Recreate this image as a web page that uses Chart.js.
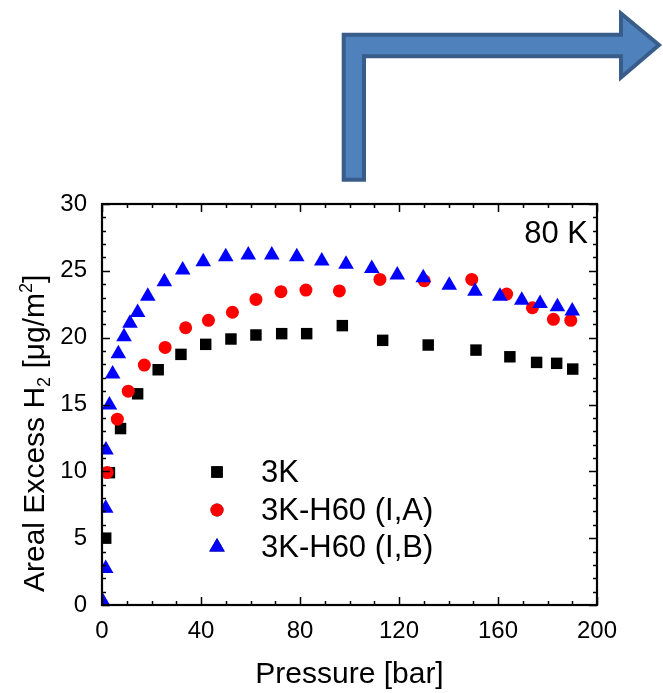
<!DOCTYPE html>
<html>
<head>
<meta charset="utf-8">
<script src="https://cdn.jsdelivr.net/npm/chart.js@4.4.1/dist/chart.umd.min.js"></script>
<style>
  html, body { margin: 0; padding: 0; background: #fff; }
  #wrap { width: 663px; height: 693px; position: relative; }
</style>
</head>
<body>
<div id="wrap"><canvas id="isoChart"></canvas></div>
<script>
// 3K
const press3K = [1.5, 3, 7.5, 14.4, 22.7, 31.9, 41.9, 52.1, 62.2, 72.6, 82.7, 97.1, 113.4, 131.8, 151.1, 164.8, 175.6, 183.7, 190.2];
const excess3K = [5.0, 9.9, 13.2, 15.8, 17.6, 18.75, 19.5, 19.9, 20.2, 20.3, 20.3, 20.9, 19.8, 19.45, 19.07, 18.57, 18.15, 18.08, 17.65];

// 3K-H60 (I,A)
const pressIA = [0, 2.1, 6.2, 10.6, 17.1, 25.5, 33.8, 43, 52.7, 62.2, 72.3, 82.4, 95.9, 112.3, 130.2, 149.4, 163.5, 173.9, 182.4, 189.4];
const excessIA = [0, 9.92, 13.9, 16.0, 17.95, 19.27, 20.74, 21.3, 21.9, 22.86, 23.44, 23.56, 23.5, 24.36, 24.26, 24.36, 23.26, 22.24, 21.37, 21.3];

// 3K-H60 (I,B)
const pressIB = [0.5, 1.5, 1.5, 1.6, 3, 4.3, 6.6, 8.9, 11.3, 14.4, 18.5, 25.2, 32.6, 40.9, 50, 59.1, 68.6, 78.7, 88.8, 98.6, 109, 119.3, 129.8, 140.3, 150.7, 160.8, 169.6, 177, 184, 190];
const excessIB = [0.2, 2.74, 7.23, 11.6, 14.96, 17.28, 18.8, 20.07, 21.07, 21.89, 23.1, 24.18, 25.06, 25.68, 26.05, 26.18, 26.18, 26.05, 25.73, 25.5, 25.18, 24.68, 24.48, 23.93, 23.48, 23.1, 22.8, 22.56, 22.31, 22.0];

const seriesNames = ["3K", "3K-H60 (I,A)", "3K-H60 (I,B)"];
const tempLabel = "80 K";

const toPoints = (xs, ys) => xs.map((x, i) => ({ x: x, y: ys[i] }));

const FONT = "'Liberation Sans', Arial, sans-serif";

// inward ticks on all four sides + box
const frameTicks = {
  id: "frameTicks",
  afterDatasetsDraw(chart) {
    const { ctx, chartArea: a, scales } = chart;
    const x = scales.x, y = scales.y;
    ctx.save();
    ctx.strokeStyle = "#000";
    ctx.lineWidth = 1.5;
    ctx.beginPath();
    for (let v = 0; v <= 200; v += 10) {
      const px = Math.round(x.getPixelForValue(v)) + 0.5;
      const len = v % 40 === 0 ? 8 : 4;
      ctx.moveTo(px, a.bottom); ctx.lineTo(px, a.bottom - len);
      ctx.moveTo(px, a.top); ctx.lineTo(px, a.top + len);
    }
    for (let v = 0; v <= 30; v += 1) {
      const py = Math.round(y.getPixelForValue(v)) + 0.5;
      const len = v % 5 === 0 ? 8 : 4;
      ctx.moveTo(a.left, py); ctx.lineTo(a.left + len, py);
      ctx.moveTo(a.right, py); ctx.lineTo(a.right - len, py);
    }
    ctx.stroke();
    ctx.lineWidth = 2.2;
    ctx.strokeRect(a.left, a.top, a.right - a.left, a.bottom - a.top);

    // temperature label
    ctx.fillStyle = "#000";
    ctx.font = "31px " + FONT;
    ctx.textAlign = "right";
    ctx.textBaseline = "alphabetic";
    ctx.fillText(tempLabel, a.right - 9, a.top + 39);
    ctx.restore();
  }
};

// legend inside the plot
const innerLegend = {
  id: "innerLegend",
  afterDraw(chart) {
    const { ctx } = chart;
    const rows = [472, 510, 547];
    ctx.save();
    chart.data.datasets.forEach((ds, i) => {
      Chart.helpers.drawPoint(ctx, {
        pointStyle: ds.pointStyle,
        radius: ds.pointRadius,
        rotation: 0,
        borderWidth: 0
      }, 217, rows[i]);
      ctx.fillStyle = ds.backgroundColor;
      ctx.fill();
      ctx.fillStyle = "#000";
      ctx.font = "31px " + FONT;
      ctx.textAlign = "left";
      ctx.textBaseline = "middle";
      ctx.fillText(ds.label, 261, rows[i] + 1);
    });
    ctx.restore();
  }
};

// y title with sub/superscript
const yTitle = {
  id: "yTitle",
  afterDraw(chart) {
    const { ctx } = chart;
    ctx.save();
    ctx.translate(44, 592);
    ctx.rotate(-Math.PI / 2);
    ctx.fillStyle = "#000";
    ctx.textAlign = "left";
    ctx.textBaseline = "alphabetic";
    let cx = 0;
    const part = (t, size, dy) => {
      ctx.font = size + "px " + FONT;
      ctx.fillText(t, cx, dy);
      cx += ctx.measureText(t).width;
    };
    part("Areal Excess H", 30, 0);
    part("2", 18, 6);
    part(" [\u03bcg/m", 30, 0);
    part("2", 18, -12);
    part("]", 30, 0);
    ctx.restore();
  }
};

// decorative bent arrow at the top
const bentArrow = {
  id: "bentArrow",
  afterDraw(chart) {
    const { ctx } = chart;
    ctx.save();
    ctx.beginPath();
    ctx.moveTo(343.7, 179.7);
    ctx.lineTo(343.7, 34.7);
    ctx.lineTo(621, 34.7);
    ctx.lineTo(621, 13.5);
    ctx.lineTo(659, 45);
    ctx.lineTo(621, 77.5);
    ctx.lineTo(621, 56.3);
    ctx.lineTo(364, 56.3);
    ctx.lineTo(364, 179.7);
    ctx.closePath();
    ctx.fillStyle = "#4f81bd";
    ctx.fill();
    ctx.lineWidth = 4;
    ctx.lineJoin = "miter";
    ctx.strokeStyle = "#385d8a";
    ctx.stroke();
    ctx.restore();
  }
};

const ctx = document.getElementById("isoChart").getContext("2d");

new Chart(ctx, {
  type: "scatter",
  data: {
    datasets: [
      {
        label: seriesNames[0],
        data: toPoints(press3K, excess3K),
        pointStyle: "rect",
        pointRadius: 8.1,
        backgroundColor: "#000000",
        borderWidth: 0,
        order: 3,
        clip: 0
      },
      {
        label: seriesNames[1],
        data: toPoints(pressIA, excessIA),
        pointStyle: "circle",
        pointRadius: 6.5,
        backgroundColor: "#ff0000",
        borderWidth: 0,
        order: 2,
        clip: 0
      },
      {
        label: seriesNames[2],
        data: toPoints(pressIB, excessIB),
        pointStyle: "triangle",
        pointRadius: 9,
        backgroundColor: "#0000ff",
        borderWidth: 0,
        order: 1,
        clip: 0
      }
    ]
  },
  options: {
    responsive: true,
    maintainAspectRatio: false,
    animation: false,
    devicePixelRatio: 1,
    layout: { padding: { left: 0, top: 204, right: 66, bottom: 0 } },
    plugins: {
      legend: { display: false },
      tooltip: { enabled: false }
    },
    scales: {
      x: {
        type: "linear",
        min: 0,
        max: 200,
        grid: { display: false },
        border: { display: false },
        ticks: {
          stepSize: 40,
          color: "#000",
          padding: 4,
          font: { family: FONT, size: 24 },
          maxRotation: 0
        },
        title: {
          display: true,
          text: "Pressure [bar]",
          color: "#000",
          font: { family: FONT, size: 30 },
          padding: { top: 8, bottom: 0 }
        },
        afterFit(scale) { scale.height = 88; }
      },
      y: {
        type: "linear",
        min: 0,
        max: 30,
        grid: { display: false },
        border: { display: false },
        ticks: {
          stepSize: 5,
          color: "#000",
          padding: 7,
          font: { family: FONT, size: 24 }
        },
        afterFit(scale) { scale.width = 102; }
      }
    }
  },
  plugins: [frameTicks, innerLegend, yTitle, bentArrow]
});
</script>
</body>
</html>
